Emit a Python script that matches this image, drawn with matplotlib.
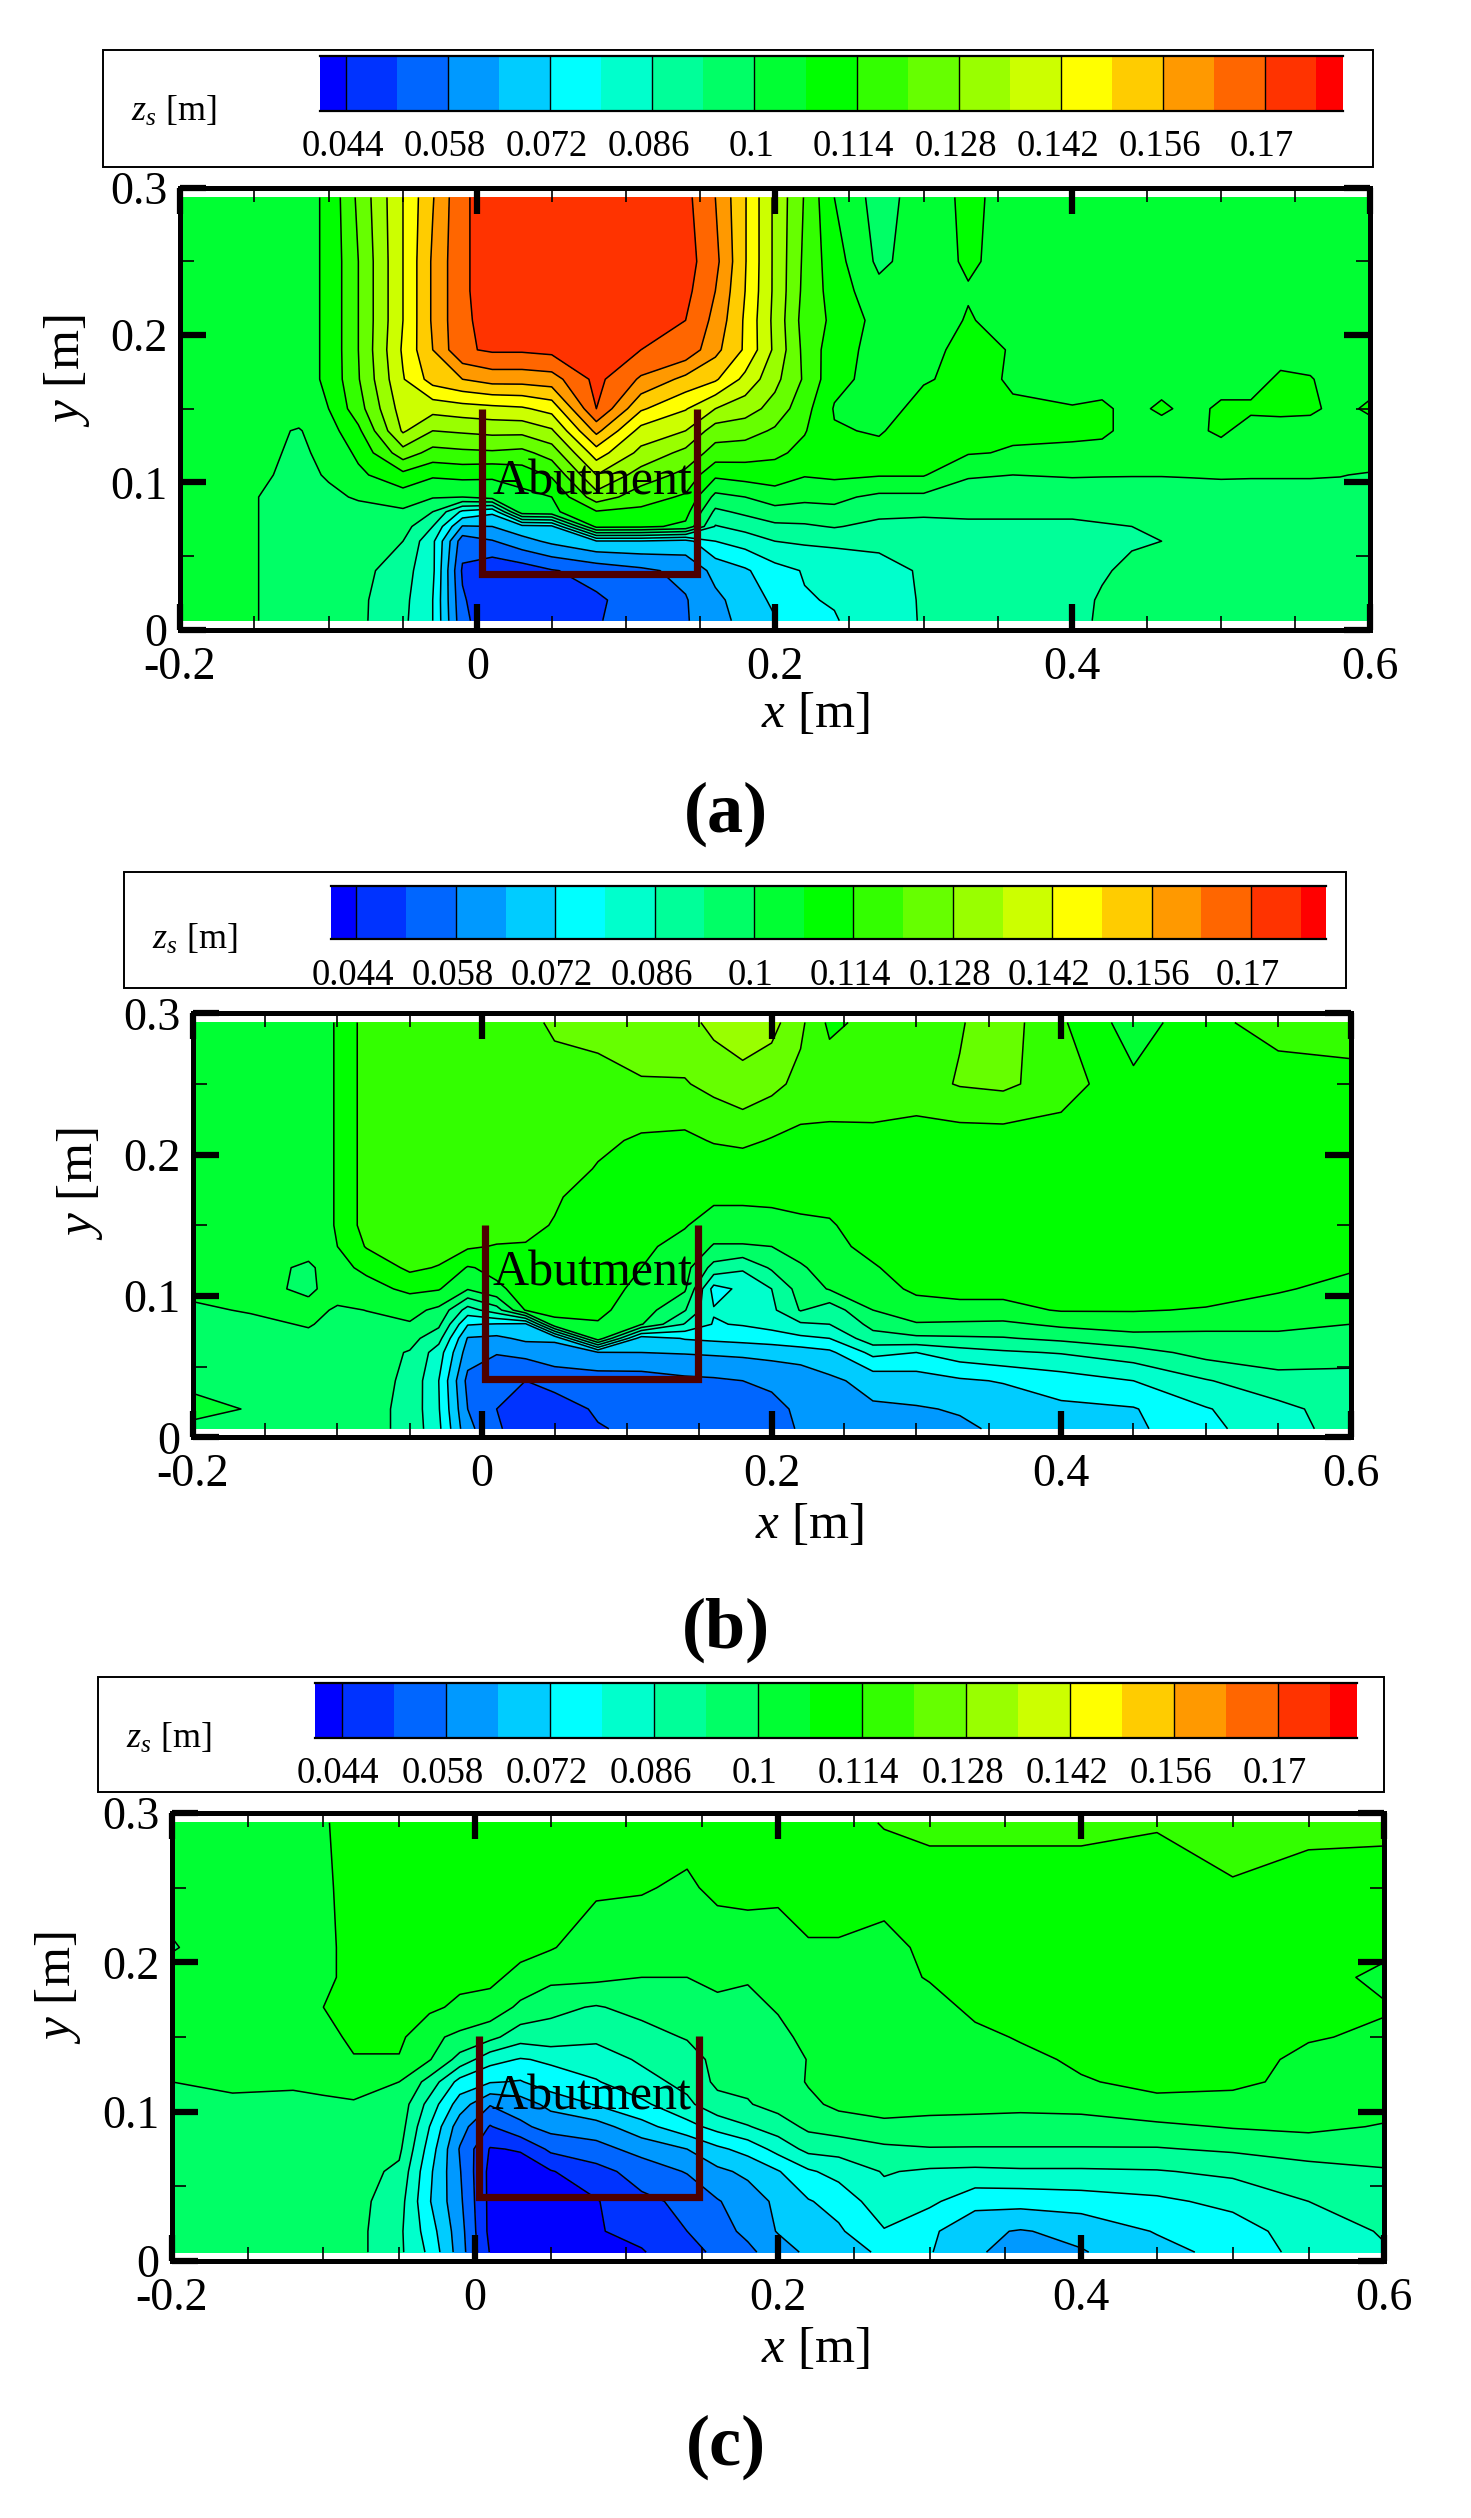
import numpy as np
import matplotlib
matplotlib.use("Agg")
from matplotlib import pyplot as plt
from matplotlib.colors import ListedColormap, BoundaryNorm
from matplotlib.patches import Rectangle
from matplotlib.ticker import MultipleLocator

plt.rcParams['font.family'] = ['Liberation Serif', 'DejaVu Serif']
plt.rcParams['mathtext.fontset'] = 'custom'
plt.rcParams['mathtext.rm'] = 'Liberation Serif'
plt.rcParams['mathtext.it'] = 'Liberation Serif:italic'

W, H = 1471, 2518
S = 1471 / 916  # layout below is read from the 916 wide view

x_grid = [-0.2, -0.16, -0.12, -0.1, -0.08, -0.05, -0.03, -0.01, 0.01, 0.03, 0.05, 0.08, 0.11, 0.14,
          0.16, 0.18, 0.2, 0.22, 0.24, 0.27, 0.3, 0.33, 0.36, 0.4, 0.45, 0.5, 0.55, 0.6]
x_a = [-0.2, -0.16, -0.12, -0.1, -0.08, -0.05, -0.03, -0.01, 0.01, 0.03, 0.05, 0.08, 0.11, 0.14,
       0.16, 0.18, 0.2, 0.22, 0.24, 0.27, 0.3, 0.33, 0.36, 0.4, 0.42, 0.44, 0.46, 0.48, 0.5, 0.52,
       0.54, 0.56, 0.58, 0.6]
y_a = [0.006, 0.02, 0.04, 0.06, 0.07, 0.08, 0.09, 0.105, 0.12, 0.135, 0.15, 0.17, 0.19, 0.21, 0.23, 0.25, 0.2935]
y_b = [0.006, 0.02, 0.04, 0.06, 0.07, 0.08, 0.09, 0.105, 0.12, 0.135, 0.15, 0.17, 0.19, 0.21, 0.25, 0.2935]
y_c = [0.006, 0.02, 0.04, 0.06, 0.075, 0.09, 0.105, 0.12, 0.135, 0.15, 0.17, 0.19, 0.21, 0.25, 0.2935]

levels = [0.0404, 0.044, 0.051, 0.058, 0.065, 0.072, 0.079, 0.086, 0.093, 0.1, 0.107, 0.114, 0.121,
          0.128, 0.135, 0.142, 0.149, 0.156, 0.163, 0.17, 0.177, 0.1806]
band_colors = ['#0000ff', '#0033ff', '#0066ff', '#0099ff', '#00ccff', '#00ffff', '#00ffcc', '#00ff99',
               '#00ff66', '#00ff33', '#00ff00', '#33ff00', '#66ff00', '#99ff00', '#ccff00', '#ffff00',
               '#ffcc00', '#ff9900', '#ff6600', '#ff3300', '#ff0000']
bar_ticks = [0.044, 0.058, 0.072, 0.086, 0.1, 0.114, 0.128, 0.142, 0.156, 0.17]
bar_labels = ['0.044', '0.058', '0.072', '0.086', '0.1', '0.114', '0.128', '0.142', '0.156', '0.17']

# one list per x column, running up the panel's y rows
zs_a = [
    [.1035] * 17,
    [.1012] * 7 + [.102, .1025, .103] + [.1035] * 7,
    [.0975] * 7 + [.0985, .099, .0995] + [.1035] * 7,
    [.0965, .0965, .0965, .097, .0975, .0985, .099, .1005, .1015, .104, .107] + [.1085] * 6,
    [.0945, .0945, .0955, .097, .0975, .0985, .1005, .1055, .1085, .1125, .118, .1205, .121, .121, .121, .121, .1225],
    [.0875, .088, .089, .093, .096, .099, .1035, .112, .125, .136, .1385, .1415, .143, .142, .142, .142, .142],
    [.079, .079, .0805, .0805, .086, .093, .1005, .108, .1185, .128, .1375, .152, .156, .157, .157, .157, .1555],
    [.053, .052, .05, .054, .0645, .0775, .1, .109, .1195, .129, .139, .156, .169, .169, .169, .169, .169],
    [.0455, .0445, .0455, .0575, .065, .0735, .103, .108, .12, .13, .14, .159, .171, .172, .173, .173, .173],
    [.045, .0445, .047, .0625, .0695, .1045, .105, .11, .119, .13, .141, .159, .171, .174, .174, .174, .174],
    [.0465, .0465, .0505, .0665, .0705, .1055, .107, .115, .124, .134, .1445, .16, .172, .174, .174, .174, .174],
    [.0505, .05, .0535, .0715, .109, .1135, .125, .135, .1455, .158, .17, .172, .174, .174, .174, .174, .174],
    [.054, .054, .0565, .0715, .1085, .1125, .117, .125, .133, .1395, .15, .162, .17, .173, .1735, .174, .174],
    [.0575, .0575, .06, .0695, .1055, .1095, .113, .119, .126, .135, .1425, .154, .168, .17, .172, .173, .172],
    [.0615, .0635, .067, .079, .0855, .0915, .098, .1085, .118, .1245, .135, .15, .158, .161, .163, .165, .163],
    [.068, .068, .071, .082, .0885, .0945, .1, .11, .117, .124, .131, .14, .148, .148, .149, .1495, .1495],
    [.0715, .0735, .0765, .086, .0915, .0975, .1035, .1105, .1155, .12, .1255, .13, .1335, .133, .1335, .1335, .1335],
    [.0775, .0785, .0795, .087, .092, .0975, .1015, .1075, .112, .1145, .1165, .12, .119, .118, .119, .1195, .1205],
    [.0785, .0795, .081, .0875, .0935, .0985, .1015, .1085, .1095, .1075, .1065, .109, .11, .1125, .111, .11, .107],
    [.083, .0835, .0845, .087, .091, .095, .0985, .1075, .1085, .1065, .1045, .1045, .1045, .1045, .102, .0985, .097],
    [.0865, .0865, .0865, .0875, .0905, .0945, .0985, .1075, .1095, .11, .109, .1065, .1045, .1035, .1035, .1035, .1035],
    [.088, .0885, .089, .0905, .092, .094, .0975, .1005, .1075, .11, .11, .1085, .1095, .1075, .1065, .108, .1085],
    [.0895, .09, .0905, .091, .092, .094, .097, .1, .1065, .108, .1075, .1065, .1065, .1045, .1045, .1045, .1045],
    [.092, .0915, .091, .091, .092, .094, .0965, .1005, .1055, .1085, .1075] + [.1035] * 6,
    [.0935, .0935, .0925, .092, .0925, .0945, .097, .1003, .1045, .1085, .1085] + [.1035] * 6,
    [.095, .095, .094, .0925, .093, .095, .0975, .1002, .1035, .1045, .1045] + [.1035] * 6,
    [.0955, .0955, .0945, .093, .094, .0955, .0975, .1002, .1035, .1035, .1085] + [.1035] * 6,
    [.0965, .0965, .0955, .094, .0945, .096, .098, .1003, .1035, .105, .1045] + [.1035] * 6,
    [.0965, .0965, .0965, .0955, .0955, .0965, .098, .1005, .1035, .1085, .1085] + [.1035] * 6,
    [.0965, .0965, .0965, .0965, .0965, .097, .098, .1004, .1035, .1035, .1085] + [.1035] * 6,
    [.0965, .0965, .0965, .0965, .0965, .097, .098, .1004, .1035, .1035, .109, .1085] + [.1035] * 5,
    [.0965, .0965, .0965, .0965, .0965, .097, .098, .1004, .1035, .1035, .1085, .1075] + [.1035] * 5,
    [.0965, .0965, .0965, .0965, .0965, .097, .098, .1002, .1035, .1035, .1045] + [.1035] * 6,
    [.0975, .0975, .0975, .0975, .0975, .098, .0985, .0995, .1035, .1035, .1085] + [.1035] * 6,
]

zs_b = [
    [.098, .1025, .098, .097, .097, .0975, .099, .1015, .1035] + [.1035] * 7,
    [.097, .0995, .097, .097, .0975, .0985, .1005, .1025, .1035] + [.1035] * 7,
    [.0965, .0965, .0965, .097, .0985, .1005, .1025, .0985, .0985] + [.1035] * 7,
    [.0955, .0955, .0965, .0965, .0975, .098, .099, .1035, .105, .107] + [.1075] * 6,
    [.0955, .0955, .096, .096, .097, .0985, .1001, .1045, .1085, .1145] + [.117] * 6,
    [.091, .091, .0915, .0925, .0955, .0995, .102, .1085, .1155] + [.1175] * 7,
    [.0805, .0795, .079, .0825, .0885, .0945, .0985, .1075, .1135] + [.1175] * 7,
    [.06, .058, .056, .0615, .0645, .0725, .083, .1005, .1065, .115] + [.1175] * 6,
    [.052, .051, .052, .0585, .0635, .0715, .09, .106, .1085, .1135, .118] + [.1175] * 5,
    [.047, .046, .051, .06, .0665, .0705, .1075, .109, .1105, .1135, .116, .1175, .1175, .1175, .1175, .1185],
    [.0465, .0475, .0535, .0625, .066, .1055, .1085, .11, .1105, .111, .1135, .115, .1175, .1175, .1175, .1225],
    [.0505, .052, .0545, .0645, .1045, .1065, .1085, .1095, .1105, .11, .11, .11, .1135, .1155, .1185, .1235],
    [.0525, .0525, .0545, .065, .068, .1005, .1035, .1055, .107, .1085, .11, .11, .1105, .113, .1205, .1245],
    [.0535, .054, .0565, .0655, .0725, .0855, .0935, .101, .1025, .1045, .1075, .11, .11, .1125, .1205, .1255],
    [.055, .055, .057, .066, .0735, .0785, .0795, .0765, .0905, .0995, .1035, .1085, .11, .1145, .123, .13],
    [.0555, .056, .058, .0665, .0745, .0795, .0825, .0805, .087, .0995, .1035, .1085, .11, .1155, .1255, .132],
    [.056, .0565, .059, .0675, .0755, .0815, .0845, .086, .094, .1, .1045, .1085, .11, .1135, .123, .1305],
    [.0585, .059, .0605, .0685, .0775, .085, .0935, .096, .099, .1035, .106, .1085, .11, .112, .119, .1225],
    [.0605, .0615, .0635, .0705, .079, .086, .089, .1005, .1035, .1055, .1065, .1085, .1105, .112, .118, .1125],
    [.0635, .064, .0675, .081, .0905, .095, .1, .1035, .1065, .1085, .1095, .11, .11, .111, .1205, .116],
    [.0625, .0645, .0685, .079, .0915, .0995, .1035, .1085, .1095, .11, .11, .11, .11, .1105, .1185, .1185],
    [.064, .0655, .071, .083, .092, .099, .1045, .1095, .11, .11, .11, .11, .11, .1105, .1215, .1205],
    [.066, .0675, .0725, .085, .0925, .0985, .105, .109, .11, .11, .11, .11, .11, .1105, .1225, .1245],
    [.0695, .0705, .0755, .0865, .0945, .1015, .1075, .11, .11, .11, .11, .11, .11, .1105, .1175, .115],
    [.0705, .0715, .079, .09, .098, .1025, .1075, .11, .11, .11, .11, .11, .11, .1105, .1085, .1035],
    [.0775, .0785, .0855, .0955, .0985, .1015, .1065, .11, .11, .11, .11, .11, .11, .1105, .1125, .112],
    [.0825, .084, .0905, .097, .0985, .1015, .105, .1075, .11, .11, .11, .11, .11, .1105, .1105, .117],
    [.0895, .0895, .091, .0955, .098, .1, .1025, .1055, .1075, .11, .11, .11, .11, .1105, .1105, .119],
]

zs_c = [
    [.0965, .0965, .0965, .0965, .0965, .0965, .0975, .1, .1035, .1035, .1035, .1025, .0995, .1025, .1035],
    [.0965, .0965, .0965, .0965, .0965, .0965, .0985, .1015, .1035, .1035, .1035, .1035, .1035, .1035, .1035],
    [.0965, .0965, .0965, .0965, .0965, .0965, .0975, .1015, .1035, .1035, .1035, .1035, .1035, .1035, .1035],
    [.0965, .0965, .0965, .0965, .0965, .0965, .099, .1015, .1035, .1045, .107, .1055, .1055, .106, .1065],
    [.0955, .0955, .0955, .096, .096, .0965, .0995, .102, .1065, .1085, .109, .109, .109, .109, .109],
    [.0875, .0875, .089, .0915, .0945, .0965, .0975, .1, .1065, .1085, .109, .109, .109, .109, .109],
    [.0775, .0755, .0725, .0735, .076, .079, .0835, .0905, .1005, .1015, .1085, .109, .109, .109, .109],
    [.0615, .061, .0595, .0585, .0575, .061, .0685, .0765, .0905, .0985, .1055, .109, .109, .109, .109],
    [.0435, .042, .042, .042, .0435, .0505, .0585, .0725, .0815, .095, .1045, .1085, .109, .109, .109],
    [.043, .042, .041, .041, .0445, .0565, .0615, .0715, .0785, .089, .0985, .105, .109, .109, .109],
    [.043, .042, .0415, .0435, .0525, .0605, .067, .076, .08, .0905, .0945, .102, .1075, .109, .1095],
    [.043, .0435, .0435, .0485, .0555, .062, .0725, .0785, .0825, .0875, .0925, .1015, .1035, .108, .1095],
    [.0435, .046, .0495, .054, .0605, .0695, .0775, .0835, .087, .0905, .095, .1, .1035, .1075, .1095],
    [.0485, .051, .0525, .0585, .065, .0765, .0845, .088, .09, .0935, .097, .1, .1035, .106, .1095],
    [.0525, .0555, .0575, .0635, .0705, .0815, .0905, .0945, .095, .096, .0985, .1015, .1035, .1085, .1095],
    [.0565, .0595, .0615, .0665, .0745, .0855, .0925, .0945, .0955, .0965, .0985, .1005, .1045, .1085, .1095],
    [.0615, .0655, .0665, .0715, .0815, .0895, .0955, .0965, .0975, .0985, .1005, .1025, .104, .1085, .1095],
    [.0665, .068, .0715, .078, .088, .0945, .0985, .1005, .1002, .1015, .1035, .1045, .1065, .1095, .1095],
    [.0695, .071, .0745, .0815, .0885, .0965, .1015, .1035, .1035, .1035, .1035, .1035, .1065, .1095, .111],
    [.073, .0785, .0835, .0865, .0915, .0985, .1025, .1035, .1035, .1035, .1035, .1045, .105, .1095, .1145],
    [.0725, .0735, .0805, .085, .0925, .0985, .1015, .1035, .104, .104, .1045, .1075, .1085, .1095, .1165],
    [.066, .0665, .0745, .0845, .0925, .0975, .102, .1035, .1045, .1055, .1085, .109, .109, .1095, .1165],
    [.062, .0645, .0745, .085, .0925, .0975, .1015, .1035, .1055, .1075, .109, .109, .109, .1095, .1165],
    [.0645, .067, .0755, .085, .0925, .0975, .102, .1065, .108, .1095, .1095, .1095, .1095, .1095, .1165],
    [.0695, .0725, .0775, .0855, .0925, .0985, .1055, .1085, .1095, .1095, .1095, .1095, .1095, .1095, .1148],
    [.0745, .0755, .081, .0875, .094, .1005, .1045, .1085, .1095, .1095, .1095, .1095, .1095, .1135, .1165],
    [.0815, .083, .086, .0905, .096, .1015, .1035, .105, .1055, .1075, .1085, .1095, .1095, .1105, .1165],
    [.0855, .0865, .0875, .0925, .0955, .0995, .1025, .1035, .1045, .106, .1075, .1055, .1085, .1095, .1165],
]

# abutment outline per panel: left x, right x, bottom y, top y
abutment_a = [0.003, 0.148, 0.038, 0.15]
abutment_b = [0.002, 0.149, 0.041, 0.15]
abutment_c = [0.003, 0.148, 0.043, 0.151]

cmap = ListedColormap(band_colors)
norm = BoundaryNorm(levels, cmap.N)
fig = plt.figure(figsize=(W / 100, H / 100), dpi=100, facecolor='white')


def px_axes(l, t, r, b, **kw):
    return fig.add_axes([l * S / W, 1 - b * S / H, (r - l) * S / W, (b - t) * S / H], **kw)


def px_text(x, y, s, **kw):
    fig.text(x * S / W, 1 - y * S / H, s, ha='center', va='center', **kw)


def panel(xs, ys, zs, abutment, frame, box, bar, xlab, ylab, tag_xy, tag, abut_xy):
    # legend box
    fig.add_artist(Rectangle((box[0] * S / W, 1 - box[3] * S / H), (box[2] - box[0]) * S / W,
                             (box[3] - box[1]) * S / H, transform=fig.transFigure,
                             fc='white', ec='black', lw=1.4, zorder=-1))
    cax = px_axes(*bar)
    edges = np.array(levels)
    cax.pcolormesh(edges, [0, 1], np.array([(edges[:-1] + edges[1:]) / 2]), cmap=cmap, norm=norm)
    cax.vlines(bar_ticks, 0, 1, color='black', lw=1.0)
    cax.set_xlim(levels[0], levels[-1])
    cax.set_ylim(0, 1)
    cax.set_xticks([])
    cax.set_yticks([])
    for side in ['left', 'right']:
        cax.spines[side].set_visible(False)
    for side in ['top', 'bottom']:
        cax.spines[side].set_linewidth(1.6)
    pos = bar[0] + (np.array(bar_ticks) - levels[0]) / (levels[-1] - levels[0]) * (bar[2] - bar[0])
    for p, lab in zip(pos, bar_labels):
        px_text(p - 2, bar[3] + 22.5, lab, fontsize=26.5)
    px_text(box[0] + 44, bar[3] + 0.5, r'$\mathit{z}_{\mathit{s}}$ [m]', fontsize=26)

    ax = px_axes(*frame)
    z = np.array(zs).T
    ax.contourf(xs, ys, z, levels=levels, colors=band_colors)
    ax.contour(xs, ys, z, levels=levels[1:-1], colors='black', linewidths=1.1, linestyles='solid')
    ax.set_xlim(-0.2, 0.6)
    ax.set_ylim(0, 0.3)
    ax.set_xticks([-0.2, 0, 0.2, 0.4, 0.6], ['-0.2', '0', '0.2', '0.4', '0.6'])
    ax.set_yticks([0, 0.1, 0.2, 0.3], ['0', '0.1', '0.2', '0.3'])
    ax.xaxis.set_minor_locator(MultipleLocator(0.05))
    ax.yaxis.set_minor_locator(MultipleLocator(0.05))
    ax.tick_params(which='major', direction='in', top=True, right=True, length=19, width=4.5,
                   labelsize=33)
    ax.tick_params(which='minor', direction='in', top=True, right=True, length=10, width=1.2)
    ax.tick_params(axis='x', which='major', pad=12)
    ax.tick_params(axis='y', which='major', pad=9)
    for side in ax.spines.values():
        side.set_linewidth(3.6)

    x0, x1, y0, y1 = abutment
    ax.plot([x0, x0, x1, x1], [y1, y0, y0, y1], color='#4d0000', lw=5.2, solid_joinstyle='miter',
            solid_capstyle='butt')
    px_text(abut_xy[0], abut_xy[1], 'Abutment', fontsize=36)
    px_text(xlab[0], xlab[1], r'$\mathit{x}$ [m]', fontsize=37)
    px_text(ylab[0], ylab[1], r'$\mathit{y}$ [m]', fontsize=37, rotation=90)
    px_text(tag_xy[0], tag_xy[1], '(' + tag + ')', fontsize=52, fontweight='bold')


panel(x_a, y_a, zs_a, abutment_a, (112, 117, 853, 392), (64, 31, 855, 104), (199, 35, 836, 69),
      (508, 445), (42, 231), (452, 507), 'a', (369, 300))
panel(x_grid, y_b, zs_b, abutment_b, (120, 631, 841, 895), (77, 543, 838, 615), (206, 552, 826, 585),
      (504, 950), (50, 737), (452, 1015), 'b', (369, 793))
panel(x_grid, y_c, zs_c, abutment_c, (107, 1129, 862, 1408), (61, 1044, 862, 1116), (196, 1048, 845, 1082),
      (508, 1463), (36, 1238), (452, 1524), 'c', (368, 1306))

fig.savefig('out.png', dpi=100)
